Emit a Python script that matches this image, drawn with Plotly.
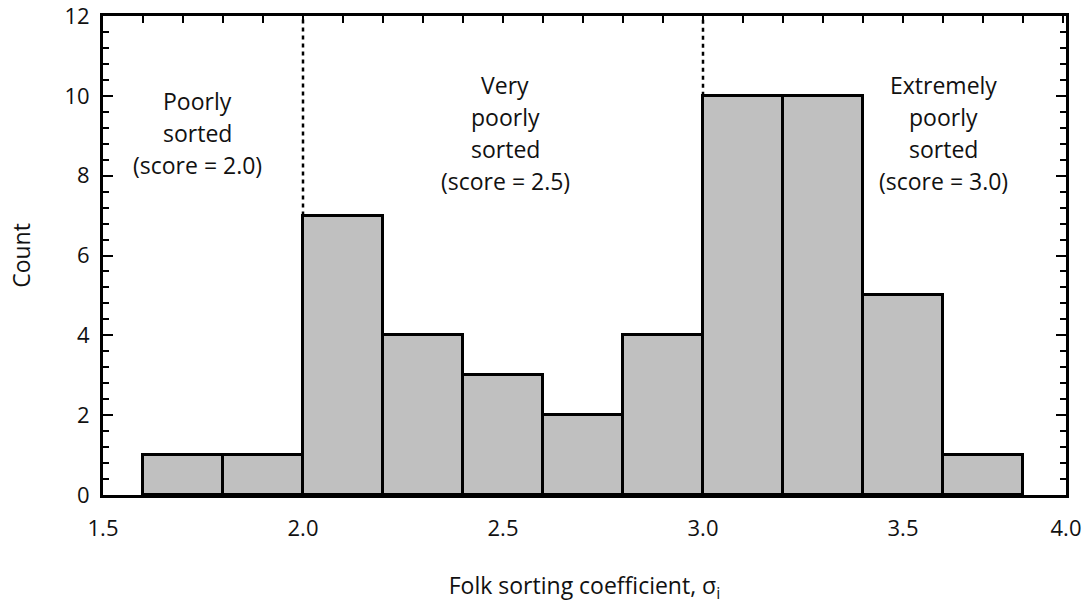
import plotly.graph_objects as go

bin_starts = [1.6, 1.8, 2.0, 2.2, 2.4, 2.6, 2.8, 3.0, 3.2, 3.4, 3.6]
counts = [1, 1, 7, 4, 3, 2, 4, 10, 10, 5, 1]
bin_width = 0.2
boundaries = [2.0, 3.0]
x_tick_vals = [1.5, 2.0, 2.5, 3.0, 3.5, 3.9075]
x_tick_text = ["1.5", "2.0", "2.5", "3.0", "3.5", "4.0"]
label_x = [1.735, 2.505, 3.6]
label_y = [9.07, 9.07, 9.07]
label_lines = [
    ["Poorly", "sorted", "(score = 2.0)"],
    ["Very", "poorly", "sorted", "(score = 2.5)"],
    ["Extremely", "poorly", "sorted", "(score = 3.0)"],
]

FONT = "Open Sans"
FS = 23
TFS = 22
LINE_H = 32
xr = [1.5, 3.9075]

fig = go.Figure()
fig.add_trace(go.Bar(
    x=bin_starts, y=counts, width=[bin_width] * len(counts), offset=0,
    marker=dict(color="#c0c0c0", line=dict(color="black", width=3)),
    showlegend=False, hoverinfo="skip",
))
# invisible trace for top tick axis
fig.add_trace(go.Scatter(x=xr, y=[0, 0], xaxis="x2", mode="lines",
                         line=dict(width=0), showlegend=False, hoverinfo="skip"))

for b in boundaries:
    top = counts[bin_starts.index(b)] if b in bin_starts else 0
    fig.add_shape(type="line", x0=b, x1=b, y0=top, y1=12, xref="x", yref="y",
                  line=dict(color="black", width=2.5, dash="4px,4px"), layer="below")

for x, y, lines in zip(label_x, label_y, label_lines):
    n = len(lines)
    for i, t in enumerate(lines):
        fig.add_annotation(x=x, y=y, text=t, showarrow=False, xref="x", yref="y",
                           font=dict(family=FONT, size=FS, color="#111"),
                           align="center", yanchor="middle",
                           yshift=-(i - (n - 1) / 2) * LINE_H)

fig.update_layout(
    width=1088, height=605,
    margin=dict(l=103, r=22, t=16, b=110, autoexpand=False),
    plot_bgcolor="white", paper_bgcolor="white",
    font=dict(family=FONT, size=FS, color="#111"),
    bargap=0,
    xaxis=dict(range=xr, tickvals=x_tick_vals, ticktext=x_tick_text,
               ticks="", showline=True, linecolor="black", linewidth=3,
               mirror=True, showgrid=False, zeroline=False, automargin=False,
               ticklabelstandoff=12, ticklabeloverflow="allow",
               title=dict(text="Folk sorting coefficient, σ<sub>i</sub>",
                          standoff=37, font=dict(size=FS)),
               tickfont=dict(size=TFS)),
    xaxis2=dict(range=xr, overlaying="x", side="top", dtick=0.1, tick0=1.5,
                ticks="inside", ticklen=7, tickwidth=2, tickcolor="black",
                showticklabels=False, showgrid=False, zeroline=False,
                showline=False, automargin=False),
    yaxis=dict(range=[0, 12], dtick=2, ticks="inside", ticklen=10, tickwidth=2,
               tickcolor="black", showline=True, linecolor="black", linewidth=3,
               mirror="ticks", showgrid=False, zeroline=False, automargin=False,
               minor=dict(dtick=0.4, ticks="inside", ticklen=6, tickwidth=2,
                          tickcolor="black", showgrid=False),
               ticklabelstandoff=6, ticklabeloverflow="allow",
               title=dict(text="Count", standoff=28, font=dict(size=FS)),
               tickfont=dict(size=TFS)),
)

fig.write_html("out.html")
